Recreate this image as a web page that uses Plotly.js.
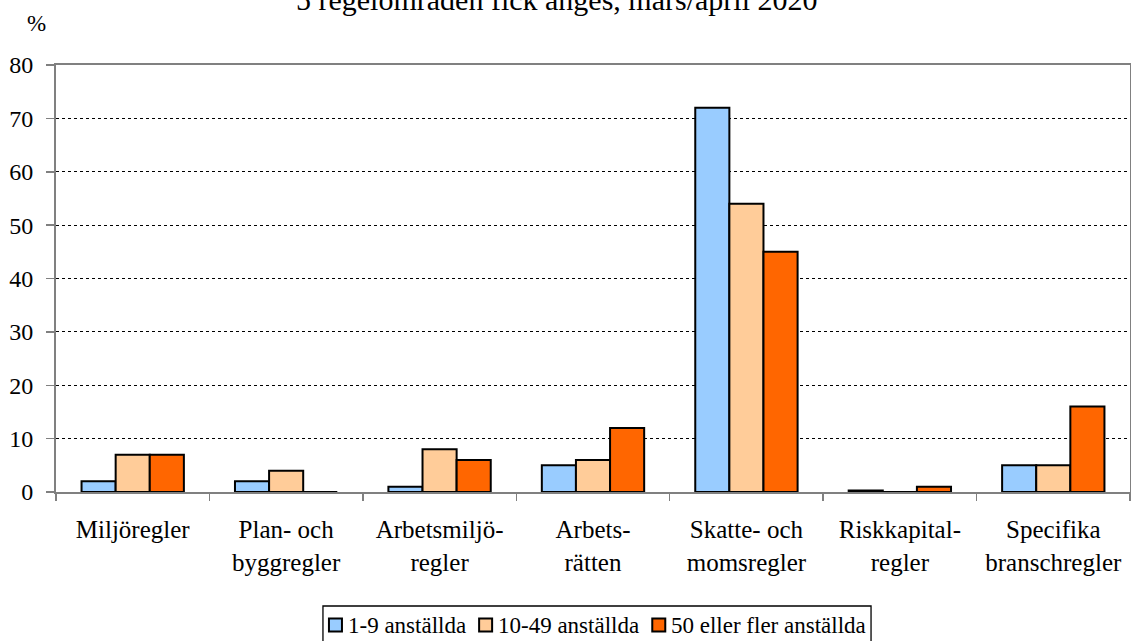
<!DOCTYPE html>
<html><head><meta charset="utf-8">
<script src="https://cdn.plot.ly/plotly-3.0.1.min.js"></script>
<style>html,body{margin:0;padding:0;background:#fff}#chart{width:1131px;height:641px}</style>
</head><body><div id="chart"></div>
<script>
const categories = ["Miljöregler","Plan- och<br>byggregler","Arbetsmiljö-<br>regler","Arbets-<br>rätten","Skatte- och<br>momsregler","Riskkapital-<br>regler","Specifika<br>branschregler"];
const seriesNames = ["1-9 anställda","10-49 anställda","50 eller fler anställda"];
const small = [2, 2, 1, 5, 72, 0.3, 5];
const medium = [7, 4, 8, 6, 54, 0, 5];
const large = [7, 0, 6, 12, 45, 1, 16];
const colors = ["#99CCFF","#FFCC99","#FF6600"];
const yTicks = [0,10,20,30,40,50,60,70,80];
const titleText = "5 regelområden fick anges, mars/april 2020";

const serif = "'Liberation Serif', 'Times New Roman', serif";
const data = [small, medium, large].map((vals, i) => ({
  type: "bar", x: categories, y: vals, name: seriesNames[i],
  marker: {color: colors[i], line: {color: "#000", width: 2}},
  showlegend: false
}));

// plot area geometry (pixels) for the hand-built legend
const L = 56, T = 65, W = 1074, H = 427;
const px = x => (x - L) / W;
const py = y => (T + H - y) / H;

// legend: measure text widths with canvas
const ctx = document.createElement("canvas").getContext("2d");
const legSize = 23;
ctx.font = legSize + "px 'Liberation Serif'";
const sq = 13, gapST = 5, gapTS = 14;
const widths = seriesNames.map(s => ctx.measureText(s).width);
const total = widths.reduce((a, w) => a + sq + gapST + w, 0) + gapTS * (seriesNames.length - 1);
let cx = 597 - total / 2;
const legY = 625;
const shapes = [], annotations = [];
shapes.push({type: "rect", xref: "paper", yref: "paper",
  x0: px(cx - 6), x1: px(cx + total + 6), y0: py(606), y1: py(650),
  line: {color: "#000", width: 1.3}, fillcolor: "rgba(0,0,0,0)"});
seriesNames.forEach((s, i) => {
  shapes.push({type: "rect", xref: "paper", yref: "paper",
    x0: px(cx), x1: px(cx + sq), y0: py(legY + sq / 2), y1: py(legY - sq / 2),
    line: {color: "#000", width: 2}, fillcolor: colors[i]});
  annotations.push({text: s, xref: "paper", yref: "paper", x: px(cx + sq + gapST), y: py(legY),
    xanchor: "left", yanchor: "middle", showarrow: false, borderpad: 0,
    font: {family: serif, size: legSize, color: "#000"}});
  cx += sq + gapST + widths[i] + gapTS;
});
annotations.push({text: titleText, xref: "paper", yref: "paper",
  x: px(556), y: py(-1), xanchor: "center", yanchor: "middle", showarrow: false,
  font: {family: serif, size: 30, color: "#000"}});
annotations.push({text: "%", xref: "paper", yref: "paper", x: px(36), y: py(24),
  xanchor: "center", yanchor: "middle", showarrow: false,
  font: {family: serif, size: 23, color: "#000"}});

const layout = {
  width: 1131, height: 641,
  margin: {l: L, r: 1131 - L - W, t: T, b: 641 - T - H},
  paper_bgcolor: "#fff", plot_bgcolor: "#fff",
  font: {family: serif, size: 24, color: "#000"},
  barmode: "group", bargap: 0.333, bargroupgap: 0,
  showlegend: false,
  xaxis: {type: "category", categoryorder: "array", categoryarray: categories,
    showline: true, linecolor: "#808080", linewidth: 2, mirror: true,
    ticks: "outside", tickson: "boundaries", ticklen: 7, tickcolor: "#808080", tickwidth: 1.5,
    ticklabelstandoff: 14, tickfont: {family: serif, size: 25, color: "#000"}, showgrid: false},
  yaxis: {range: [0, 80], tickvals: yTicks, ticktext: yTicks.map(String),
    showline: true, linecolor: "#808080", linewidth: 2, mirror: true,
    ticks: "outside", ticklen: 8, tickcolor: "#808080", tickwidth: 1.5,
    ticklabelstandoff: 8,
    showgrid: true, gridcolor: "#000", gridwidth: 1, griddash: "dot",
    zeroline: false, tickfont: {family: serif, size: 24, color: "#000"}},
  shapes: shapes,
  annotations: annotations
};
Plotly.newPlot("chart", data, layout, {displayModeBar: false, staticPlot: true});
</script></body></html>
